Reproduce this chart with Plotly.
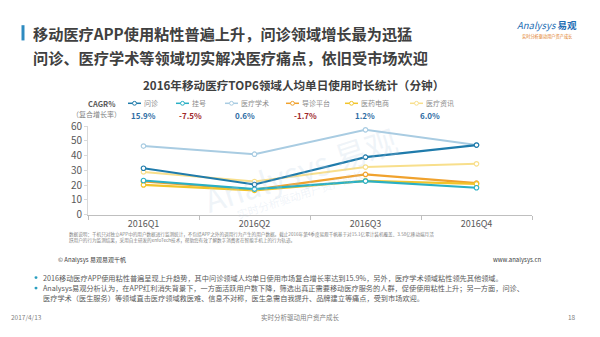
import plotly.graph_objects as go

# Quarterly per-user daily usage time (minutes) for six mobile-health segments
quarters = ["2016Q1", "2016Q2", "2016Q3", "2016Q4"]
consult = [31.5, 20.5, 39.0, 47.2]        # 问诊
registration = [23.2, 17.3, 22.8, 18.3]   # 挂号
academic = [46.5, 41.0, 57.5, 47.2]       # 医疗学术
triage = [22.6, 17.0, 27.3, 21.4]         # 导诊平台
pharma = [20.2, 16.5, 23.0, 20.9]         # 医药电商
news = [29.0, 22.5, 32.3, 34.5]           # 医疗资讯

series_names = ["问诊", "挂号", "医疗学术", "导诊平台", "医药电商", "医疗资讯"]
series_values = [consult, registration, academic, triage, pharma, news]
cagr_labels = ["15.9%", "-7.5%", "0.6%", "-1.7%", "1.2%", "6.0%"]
y_ticks = [0, 10, 20, 30, 40, 50, 60]

colors = ["#1f7bab", "#2ab0c5", "#a9cce2", "#f0a22e", "#f2c42a", "#f8df8c"]
widths = [2.2, 2.2, 2.0, 2.2, 2.2, 2.0]
cagr_colors = ["#2e6da4", "#a0282a", "#2e6da4", "#a0282a", "#2e6da4", "#2e6da4"]

W, H = 600, 337
CJK = "Noto Sans CJK SC"


def px(x):
    return x / W


def py(y):
    return 1 - y / H


fig = go.Figure()

# draw order: light lines beneath, dark lines on top
order = [2, 5, 3, 4, 1, 0]
for i in order:
    fig.add_trace(go.Scatter(
        x=quarters, y=series_values[i], mode="lines+markers",
        name=series_names[i],
        line=dict(color=colors[i], width=widths[i]),
        marker=dict(size=4.5, color="white", line=dict(color=colors[i], width=1.2)),
        showlegend=False,
    ))

annotations = []
shapes = []


def note(text, x, y, size, color, anchor="left", **kw):
    annotations.append(dict(text=text, x=px(x), y=py(y), xref="paper", yref="paper",
                            xanchor=anchor, yanchor="middle", showarrow=False,
                            font=dict(family=CJK, size=size, color=color), **kw))


# slide heading with accent bar
shapes.append(dict(type="rect", xref="paper", yref="paper",
                   x0=px(21.5), x1=px(24.5), y0=py(33), y1=py(17),
                   fillcolor="#2e8bc0", line=dict(width=0)))
note("<b>移动医疗APP使用粘性普遍上升，问诊领域增长最为迅猛</b>", 31, 25, 15.2, "#404040")
note("<b>问诊、医疗学术等领域切实解决医疗痛点，依旧受市场欢迎</b>", 31, 50, 15.2, "#404040")

# brand mark
note("<i>Analysys</i> <b>易观</b>", 547, 17, 9.5, "#1f6fb5", anchor="center")
note("实时分析驱动用户资产成长", 547, 29, 4.2, "#e07a20", anchor="center")

# chart title
note("<b>2016年移动医疗TOP6领域人均单日使用时长统计（分钟）</b>", 293, 80, 11.6, "#404040",
     anchor="center")

# CAGR header
note("<b>CAGR%</b>", 101, 99, 7.5, "#595959", anchor="center")
note("（复合增长率）", 97, 110, 7, "#7f7f7f", anchor="center")

# legend entries with CAGR values underneath
icon_x = [128, 176, 225, 286, 345, 410]
value_x = [143, 190, 245, 305, 365, 430]
for i in range(6):
    x0 = icon_x[i]
    shapes.append(dict(type="line", xref="paper", yref="paper",
                       x0=px(x0), x1=px(x0 + 13), y0=py(99), y1=py(99),
                       line=dict(color=colors[i], width=1.5)))
    shapes.append(dict(type="circle", xref="paper", yref="paper",
                       x0=px(x0 + 4.5), x1=px(x0 + 8.5), y0=py(101), y1=py(97),
                       fillcolor="white", line=dict(color=colors[i], width=1)))
    note(series_names[i], x0 + 14, 99, 7, "#8c8c8c")
    note("<b>" + cagr_labels[i] + "</b>", value_x[i], 112, 8, cagr_colors[i], anchor="center")

# faint brand watermark across the plot
note("Analysys 易观", 300, 168, 32, "rgba(185,205,225,0.22)", anchor="center", textangle=-18)
note("实时分析驱动用户资产成长", 300, 194, 11, "rgba(185,205,225,0.22)", anchor="center",
     textangle=-18)

# data note
note("数据说明：千机只对独立APP中的用户数据进行监测统计，不包括APP之外的调用行为产生的用户数据。截止2016年第4季度易观千帆基于对15.1亿累计装机覆盖、3.58亿移动端月活<br>"
     "跃用户的行为监测结果，采用自主研发的enfoTech技术，帮助您有效了解数字消费者在智能手机上的行为轨迹。",
     67, 240, 4.6, "#7f7f7f", align="left")

# source line
note("© Analysys 易观易观千帆", 56, 263, 6, "#404040")
note("www.analysys.cn", 543, 263, 6, "#404040", anchor="right")

# commentary bullets
bullet_rows = [282, 293]
bullet_text = [
    "2016移动医疗APP使用粘性普遍呈现上升趋势，其中问诊领域人均单日使用市场复合增长率达到15.9%，另外，医疗学术领域粘性领先其他领域。",
    "Analysys易观分析认为，在APP红利消失背景下，一方面活跃用户数下降，筛选出真正需要移动医疗服务的人群，促使使用粘性上升；另一方面，问诊、",
]
for yy, t in zip(bullet_rows, bullet_text):
    shapes.append(dict(type="circle", xref="paper", yref="paper",
                       x0=px(34.5), x1=px(37.5), y0=py(yy + 1.5), y1=py(yy - 1.5),
                       fillcolor="#2a9fc0", line=dict(width=0)))
    note(t, 41, yy, 7.2, "#595959")
note("医疗学术（医生服务）等领域直击医疗领域救医难、信息不对称，医生急需自我提升、品牌建立等痛点，受到市场欢迎。",
     41, 303, 7.2, "#595959")

# slide footer
note("2017/4/13", 9, 323, 6.5, "#7f7f7f")
note("实时分析驱动用户资产成长", 300, 323, 6.5, "#7f7f7f", anchor="center")
note("18", 578, 323, 6.5, "#7f7f7f", anchor="right")

fig.update_layout(
    width=W, height=H,
    margin=dict(l=0, r=0, t=0, b=0),
    paper_bgcolor="white", plot_bgcolor="white",
    showlegend=False,
    annotations=annotations,
    shapes=shapes,
    xaxis=dict(
        domain=[px(88), px(532)], type="category", range=[-0.5, 3.5],
        showgrid=False, zeroline=False,
        showline=True, linecolor="#bfbfbf", linewidth=1,
        ticks="outside", tickson="boundaries", ticklen=4, tickcolor="#bfbfbf",
        tickfont=dict(family=CJK, size=9, color="#595959"),
    ),
    yaxis=dict(
        domain=[py(216), py(123)], range=[0, 60],
        tickvals=y_ticks,
        showgrid=False, zeroline=False,
        showline=True, linecolor="#d9d9d9", linewidth=1,
        ticks="outside", ticklen=3, tickcolor="#d9d9d9",
        tickfont=dict(family=CJK, size=10, color="#595959"),
    ),
)

fig.write_html("out.html")
